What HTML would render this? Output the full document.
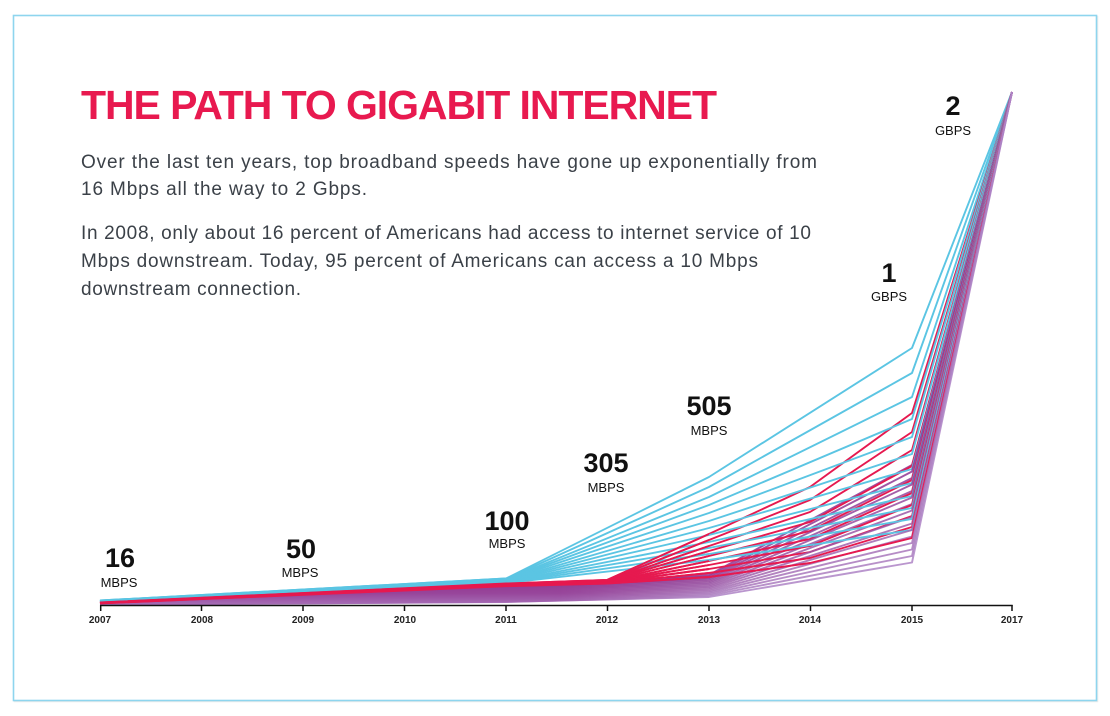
<!DOCTYPE html>
<html>
<head>
<meta charset="utf-8">
<style>
  html, body { margin: 0; padding: 0; background: #ffffff; }
  body { width: 1110px; height: 716px; overflow: hidden; }
  svg { display: block; }
  .body-t { font-family: "Liberation Sans", sans-serif; font-size: 19px; fill: #3b4148; }
  .num { font-family: "Liberation Sans", sans-serif; font-size: 27px; font-weight: bold; fill: #111; }
  .unit { font-family: "Liberation Sans", sans-serif; font-size: 13px; fill: #111; }
  .yr { font-family: "Liberation Sans", sans-serif; font-size: 10px; font-weight: bold; fill: #222; }
  .c { stroke: #5bc5e3; }
  .r { stroke: #e6194f; }
  .p { stroke-opacity: 0.85; }
</style>
</head>
<body>
<svg width="1110" height="716" viewBox="0 0 1110 716" xmlns="http://www.w3.org/2000/svg">
  <defs>
    <linearGradient id="pg" x1="0" y1="0" x2="0" y2="1">
      <stop offset="0" stop-color="#8f348c"/>
      <stop offset="0.6" stop-color="#97459a"/>
      <stop offset="1" stop-color="#a670b8"/>
    </linearGradient>
    <linearGradient id="hg" gradientUnits="userSpaceOnUse" x1="560" y1="0" x2="709" y2="0">
      <stop offset="0" stop-color="#ffffff"/>
      <stop offset="1" stop-color="#000000"/>
    </linearGradient>
    <mask id="fade" maskUnits="userSpaceOnUse" x="0" y="0" width="1110" height="716">
      <rect x="0" y="0" width="1110" height="716" fill="url(#hg)"/>
    </mask>
  </defs>
  <rect x="0" y="0" width="1110" height="716" fill="#ffffff"/>
  <rect x="14.5" y="16.5" width="1083" height="685" fill="none" stroke="#ececec" stroke-width="1.5"/>
  <rect x="13.5" y="15.5" width="1083" height="685" fill="#ffffff" stroke="#8ed5ee" stroke-width="1.6"/>

  <text x="81" y="119" font-family="Liberation Sans, sans-serif" font-size="41" font-weight="bold" fill="#e8194f" textLength="636" lengthAdjust="spacing">THE PATH TO GIGABIT INTERNET</text>

  <text class="body-t" x="81" y="168" textLength="736" lengthAdjust="spacing">Over the last ten years, top broadband speeds have gone up exponentially from</text>
  <text class="body-t" x="81" y="195" textLength="286" lengthAdjust="spacing">16 Mbps all the way to 2 Gbps.</text>
  <text class="body-t" x="81" y="239" textLength="730" lengthAdjust="spacing">In 2008, only about 16 percent of Americans had access to internet service of 10</text>
  <text class="body-t" x="81" y="267" textLength="677" lengthAdjust="spacing">Mbps downstream. Today, 95 percent of Americans can access a 10 Mbps</text>
  <text class="body-t" x="81" y="295" textLength="220" lengthAdjust="spacing">downstream connection.</text>

  <g fill="none" stroke-width="1.9" stroke-linejoin="round">
    <polyline class="c" points="100,600.5 506,578.5 709,477 912,348 1012,92"/>
    <polyline class="c" points="100,600.7 506,579 709,487 912,373 1012,92"/>
    <polyline class="c" points="100,600.9 506,579.4 709,497 912,397 1012,92"/>
    <polyline class="r" points="100,602.5 506,583.5 607,580 709,534 810,487 912,413 1012,92"/>
    <polyline class="c" points="100,601 506,579.8 709,505 912,419 1012,92"/>
    <polyline class="r" points="100,602.6 506,583.8 607,580.4 709,540 810,500 912,432 1012,92"/>
    <polyline class="c" points="100,601.2 506,580.2 709,513 912,437 1012,92"/>
    <polyline class="r" points="100,602.7 506,584.1 607,580.8 709,546 810,512 912,450 1012,92"/>
    <polyline class="c" points="100,601.3 506,580.6 709,521 912,454 1012,92"/>
    <polyline class="p" stroke="#8c3290" points="100,603.6 506,587 709,575 912,465 1012,92"/>
    <polyline class="r" points="100,602.8 506,584.4 607,581.2 709,551 810,522 912,466 1012,92"/>
    <polyline class="c" points="100,601.5 506,581 709,528 912,469 1012,92"/>
    <polyline class="p" stroke="#8e3793" points="100,603.7 506,588 709,576.5 912,471.5 1012,92"/>
    <polyline class="p" stroke="#903c96" points="100,603.8 506,589 709,578 912,478 1012,92"/>
    <polyline class="r" points="100,602.9 506,584.7 607,581.6 709,556 810,531 912,480 1012,92"/>
    <polyline class="c" points="100,601.6 506,581.4 709,535 912,483 1012,92"/>
    <polyline class="p" stroke="#924299" points="100,603.9 506,590 709,579.4 912,484.5 1012,92"/>
    <polyline class="p" stroke="#95479c" points="100,604 506,591 709,580.9 912,491 1012,92"/>
    <polyline class="r" points="100,603 506,585 607,582 709,561 810,539 912,493 1012,92"/>
    <polyline class="c" points="100,601.8 506,581.8 709,542 912,496 1012,92"/>
    <polyline class="p" stroke="#974c9f" points="100,604.1 506,592 709,582.4 912,497.5 1012,92"/>
    <polyline class="p" stroke="#9952a3" points="100,604.2 506,593 709,583.8 912,504 1012,92"/>
    <polyline class="r" points="100,603.1 506,585.3 607,582.4 709,565 810,546 912,505 1012,92"/>
    <polyline class="c" points="100,601.9 506,582.2 709,548 912,508 1012,92"/>
    <polyline class="p" stroke="#9b57a6" points="100,604.3 506,594 709,585.3 912,510.5 1012,92"/>
    <polyline class="r" points="100,603.2 506,585.6 607,582.8 709,569 810,552 912,516 1012,92"/>
    <polyline class="p" stroke="#9e5ca9" points="100,604.4 506,595 709,586.8 912,517 1012,92"/>
    <polyline class="c" points="100,602 506,582.6 709,554 912,519 1012,92"/>
    <polyline class="p" stroke="#a062ad" points="100,604.5 506,596 709,588.2 912,523.5 1012,92"/>
    <polyline class="r" points="100,603.3 506,585.9 607,583.2 709,573 810,558 912,527 1012,92"/>
    <polyline class="c" points="100,602.2 506,583 709,560 912,530 1012,92"/>
    <polyline class="p" stroke="#a267b0" points="100,604.6 506,597 709,589.7 912,530 1012,92"/>
    <polyline class="p" stroke="#a46db4" points="100,604.7 506,598 709,591.2 912,536.5 1012,92"/>
    <polyline class="r" points="100,603.4 506,586.2 607,583.6 709,577 810,563 912,538 1012,92"/>
    <polyline class="p" stroke="#a773b8" points="100,604.8 506,599 709,592.6 912,543 1012,92"/>
    <polyline class="p" stroke="#a978bc" points="100,604.9 506,600 709,594.1 912,549.5 1012,92"/>
    <polyline class="p" stroke="#ab7ec0" points="100,605 506,601 709,595.6 912,556 1012,92"/>
    <polyline class="p" stroke="#ae84c5" points="100,605 506,602 709,597 912,562.5 1012,92"/>
  </g>

  <!-- bundle overlay: purple band (fading out toward 2013), then cyan and red segments -->
  <polygon points="100,603 506,586.2 709,574.5 709,597.8 506,602.8 100,605.8" fill="url(#pg)" fill-opacity="0.95" mask="url(#fade)"/>
  <g fill="none" stroke-width="1.9" stroke-linejoin="round">
    <polyline class="c" points="100,600.5 506,578.5"/>
    <polyline class="c" points="100,600.7 506,579"/>
    <polyline class="c" points="100,600.9 506,579.4"/>
    <polyline class="c" points="100,601 506,579.8"/>
    <polyline class="c" points="100,601.2 506,580.2"/>
    <polyline class="c" points="100,601.3 506,580.6"/>
    <polyline class="c" points="100,601.5 506,581"/>
    <polyline class="c" points="100,601.6 506,581.4"/>
    <polyline class="c" points="100,601.8 506,581.8"/>
    <polyline class="c" points="100,601.9 506,582.2"/>
    <polyline class="c" points="100,602 506,582.6"/>
    <polyline class="c" points="100,602.2 506,583"/>
    <polyline class="r" points="100,602.5 506,583.5 607,580 709,534"/>
    <polyline class="r" points="100,602.6 506,583.8 607,580.4 709,540"/>
    <polyline class="r" points="100,602.7 506,584.1 607,580.8 709,546"/>
    <polyline class="r" points="100,602.8 506,584.4 607,581.2 709,551"/>
    <polyline class="r" points="100,602.9 506,584.7 607,581.6 709,556"/>
    <polyline class="r" points="100,603 506,585 607,582 709,561"/>
    <polyline class="r" points="100,603.1 506,585.3 607,582.4 709,565"/>
    <polyline class="r" points="100,603.2 506,585.6 607,582.8 709,569"/>
    <polyline class="r" points="100,603.3 506,585.9 607,583.2 709,573"/>
    <polyline class="r" points="100,603.4 506,586.2 607,583.6 709,577"/>
  </g>

  <g stroke="#111" stroke-width="1.5" fill="none">
    <line x1="100" y1="605.5" x2="1012.7" y2="605.5"/>
    <line x1="100.7" y1="605" x2="100.7" y2="611"/>
    <line x1="201.5" y1="605" x2="201.5" y2="611"/>
    <line x1="303" y1="605" x2="303" y2="611"/>
    <line x1="404.5" y1="605" x2="404.5" y2="611"/>
    <line x1="506" y1="605" x2="506" y2="611"/>
    <line x1="607.5" y1="605" x2="607.5" y2="611"/>
    <line x1="709" y1="605" x2="709" y2="611"/>
    <line x1="810.5" y1="605" x2="810.5" y2="611"/>
    <line x1="912" y1="605" x2="912" y2="611"/>
    <line x1="1012" y1="605" x2="1012" y2="611"/>
  </g>
  <g class="yr" text-anchor="middle">
    <text x="100" y="623">2007</text>
    <text x="202" y="623">2008</text>
    <text x="303" y="623">2009</text>
    <text x="405" y="623">2010</text>
    <text x="506" y="623">2011</text>
    <text x="607" y="623">2012</text>
    <text x="709" y="623">2013</text>
    <text x="810" y="623">2014</text>
    <text x="912" y="623">2015</text>
    <text x="1012" y="623">2017</text>
  </g>

  <g text-anchor="middle">
    <text class="num" x="120" y="567">16</text>
    <text class="unit" x="119" y="587">MBPS</text>
    <text class="num" x="301" y="558">50</text>
    <text class="unit" x="300" y="577">MBPS</text>
    <text class="num" x="507" y="530">100</text>
    <text class="unit" x="507" y="548">MBPS</text>
    <text class="num" x="606" y="472">305</text>
    <text class="unit" x="606" y="492">MBPS</text>
    <text class="num" x="709" y="415">505</text>
    <text class="unit" x="709" y="435">MBPS</text>
    <text class="num" x="889" y="282">1</text>
    <text class="unit" x="889" y="301">GBPS</text>
    <text class="num" x="953" y="115">2</text>
    <text class="unit" x="953" y="135">GBPS</text>
  </g>
</svg>
</body>
</html>
